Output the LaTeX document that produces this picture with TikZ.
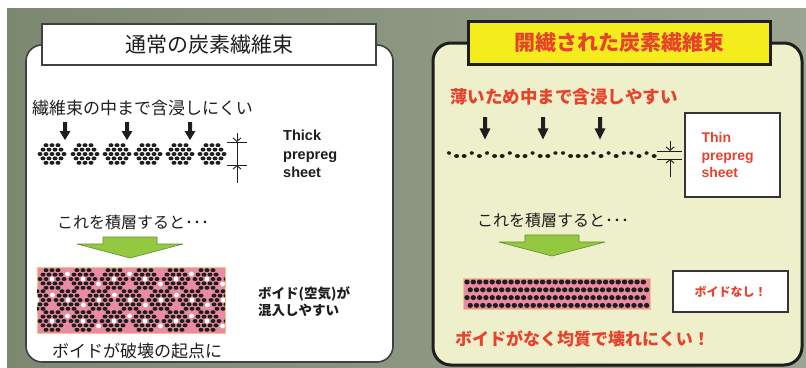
\documentclass[tikz,border=0pt]{standalone}
\usepackage{fontspec}
\setmainfont{Liberation Sans}
\newfontfamily\jp{Noto Sans CJK JP}
\usetikzlibrary{arrows.meta}

\definecolor{bgL}{HTML}{7C8970}
\definecolor{bgR}{HTML}{9BA391}
\definecolor{panelG}{HTML}{EEF0CB}
\definecolor{redtxt}{HTML}{E8412C}
\definecolor{titleY}{HTML}{F5EC1E}
\definecolor{lamPink}{HTML}{EA8BA2}
\definecolor{lamEdge}{HTML}{F2C48C}
\definecolor{arrGreen}{HTML}{93C840}
\definecolor{arrGreenD}{HTML}{5E8F2A}
\definecolor{ink}{HTML}{1E1E1E}

\tikzset{
  panelL/.style={draw=ink!85, line width=1.6pt, fill=white, rounded corners=16pt, inner sep=0pt},
  panelR/.style={draw=ink, line width=3pt, fill=panelG, rounded corners=18pt, inner sep=0pt},
  titleLbox/.style={draw=ink!85, line width=1.5pt, fill=white, inner sep=0pt,
    font=\jp\fontsize{21}{21}\selectfont, text=ink},
  titleRbox/.style={draw=ink, line width=3pt, fill=titleY, inner sep=0pt,
    font=\jp\bfseries\fontsize{21}{21}\selectfont, text=redtxt},
  jptext/.style={inner sep=0pt, anchor=west, text=ink, font=\jp\fontsize{#1}{#1}\selectfont},
  jpred/.style={inner sep=0pt, anchor=west, text=redtxt, font=\jp\bfseries\fontsize{#1}{#1}\selectfont},
  notebox/.style={draw=ink!90, line width=2.8pt, fill=white, inner sep=0pt},
  dimline/.style={draw=ink, line width=0.9pt},
  dimtip/.style={dimline, -{Straight Barb[length=3.5pt,width=8pt,line width=0.9pt]}},
  void/.style={fill=white},
  darrow/.pic={
    \fill[ink] (-2,0) -- (2,0) -- (2,9) -- (5.5,9) -- (0,18) -- (-5.5,9) -- (-2,9) -- cycle;
  },
  garrow/.pic={
    \filldraw[fill=arrGreen, draw=arrGreenD, line width=0.6pt, line join=round]
      (-27,0) -- (27,0) -- (27,7) -- (53,7) -- (0,21) -- (-53,7) -- (-27,7) -- cycle;
  },
  bundle/.pic={
    \foreach \r/\n in {-2/3,-1/4,0/5,1/4,2/3}{
      \foreach \i in {1,...,\n}{
        \fill[ink] ({(\i-(\n+1)/2)*6},{\r*4.4}) ellipse (2.5pt and 2.0pt);
      }
    }
  }
}

\begin{document}
\begin{tikzpicture}[x=1pt,y=-1pt]
\useasboundingbox (0,0) rectangle (806,367);
\fill[white] (0,0) rectangle (806,367);
% textured backdrop
\shade[left color=bgL, right color=bgR] (7,8) rectangle (806,367);

% ---------------- left panel: ordinary carbon fibre bundle ----------------
\node[panelL, minimum width=367pt, minimum height=317pt] (pl) at (209.5,203.5) {};
\node[titleLbox, minimum width=334pt, minimum height=41pt] (tl) at (209,44.5) {通常の炭素繊維束};

\node[jptext=17] (l1) at (32,108) {繊維束の中まで含浸しにくい};

\foreach \ax [count=\k] in {65,127,190}
  \pic (la\k) at (\ax,122) {darrow};

\foreach \bx [count=\k] in {52,85,117,148,180,212}
  \pic (lb\k) at (\bx,154) {bundle};

% thickness of the thick sheet
\coordinate (ltA) at (227,142);
\coordinate (ltB) at (247,142);
\coordinate (lbA) at (227,165);
\coordinate (lbB) at (247,165);
\coordinate (lt0) at (237,133);
\coordinate (lt1) at (237,142);
\coordinate (lb1) at (237,165);
\coordinate (lb0) at (237,183);
\draw[dimline] (ltA) -- (ltB);
\draw[dimline] (lbA) -- (lbB);
\draw[dimline] (lt1) -- (lb1);
\draw[dimtip] (lt0) -- (lt1);
\draw[dimtip] (lb0) -- (lb1);

\node[inner sep=0pt, anchor=west, align=left, text=ink,
      font=\bfseries\fontsize{14.5}{18.5}\selectfont] (lthick) at (283,154) {Thick\\prepreg\\sheet};

\node[jptext=16] (l2) at (57,222) {これを積層すると･･･};
\pic (lg) at (130,237) {garrow};

% laminate with voids
\node[draw=lamEdge, line width=0.8pt, fill=lamPink, minimum width=188pt, minimum height=66pt,
      inner sep=0pt] (llam) at (131,300) {};
\begin{scope}
  \clip (37,267) rectangle (225,333);
  \foreach \cy/\sx in {279/52, 300/37, 321/52}{
    \foreach \i in {0,...,6}{
      \pic at ({\sx+\i*31},\cy) {bundle};
      \fill[void] ({\sx+\i*31},\cy) circle (2.5pt);
      \fill[void] ({\sx+\i*31+15.5},{\cy+5*(mod(\i,2)*2-1)}) circle (2.4pt);
    }
  }
\end{scope}

\node[inner sep=0pt, anchor=west, align=left, text=ink,
      font=\jp\bfseries\fontsize{13.5}{17}\selectfont] (lvoid) at (258,302) {ボイド(空気)が\\混入しやすい};

\node[jptext=17] (l3) at (52,351) {ボイドが破壊の起点に};

% ---------------- right panel: spread carbon fibre bundle ----------------
\node[panelR, minimum width=369pt, minimum height=322pt] (pr) at (617.5,204) {};
\node[titleRbox, minimum width=302pt, minimum height=43pt] (tr) at (619,42.5) {開繊された炭素繊維束};

\node[jpred=17.5] (r1) at (450,97) {薄いため中まで含浸しやすい};

\foreach \ax [count=\k] in {485,543,600}
  \pic[yscale=1.25] (ra\k) at (\ax,117) {darrow};

% thin spread tow: a single row of filaments
\foreach \u [count=\k from 0] in {1,0,0,1,0,1,0,0,1,0,0,1,0,0,1,1,0,0,0,1,0,1,0,1,1,0,1,0}{
  \ifnum\u=1
    \fill[ink] ({449+\k*7.6},153) ellipse (2.1pt and 1.8pt);
  \else
    \fill[ink] ({449+\k*7.6},156) ellipse (2.5pt and 2pt);
  \fi
}

% thickness of the thin sheet
\coordinate (rtA) at (657,151);
\coordinate (rtB) at (682,151);
\coordinate (rbA) at (657,159);
\coordinate (rbB) at (682,159);
\coordinate (rt0) at (670,141);
\coordinate (rt1) at (670,151);
\coordinate (rb1) at (670,159);
\coordinate (rb0) at (670,177);
\draw[dimline] (rtA) -- (rtB);
\draw[dimline] (rbA) -- (rbB);
\draw[dimtip] (rt0) -- (rt1);
\draw[dimtip] (rb0) -- (rb1);

\node[notebox, minimum width=95pt, minimum height=84pt, text width=62pt, align=left,
      text=redtxt, font=\bfseries\fontsize{14}{17.5}\selectfont] (rthin) at (732.5,155)
      {Thin\\prepreg\\sheet};

\node[jptext=16] (r2) at (477,220) {これを積層すると･･･};
\pic (rg) at (552,235) {garrow};

% dense laminate without voids
\node[draw=lamEdge, line width=0.8pt, fill=lamPink, minimum width=187pt, minimum height=31pt,
      inner sep=0pt] (rlam) at (556.5,293.5) {};
\foreach \ry/\ox in {282/0, 289.8/3.2, 297.6/0, 305.4/3.2}{
  \foreach \i in {0,...,28}{
    \fill[ink] ({467+\ox+\i*6.3},\ry) ellipse (2.7pt and 2.5pt);
  }
}

\node[notebox, minimum width=115pt, minimum height=41pt, text=redtxt,
      font=\jp\bfseries\fontsize{12}{12}\selectfont] (rnone) at (730.5,291.5) {ボイドなし！};

\node[jpred=17] (r3) at (455,339) {ボイドがなく均質で壊れにくい！};

\end{tikzpicture}
\end{document}
